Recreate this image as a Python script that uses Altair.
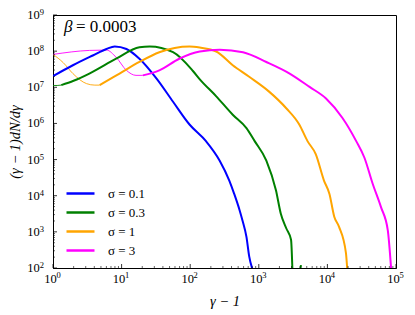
import numpy as np
import pandas as pd
import altair as alt

FONT = "Liberation Serif, DejaVu Serif, serif"

sigma_labels = ["σ = 0.1", "σ = 0.3", "σ = 1", "σ = 3"]
colors = ["#0000ff", "#008000", "#ffa500", "#ff00ff"]
beta_symbol = "β"
beta_value = "= 0.0003"

# log10(gamma-1), log10(y)
blue_thick_lx = [0.00, 0.29, 0.58, 0.78, 0.90, 1.07, 1.26, 1.51, 1.75, 1.99, 2.23, 2.43, 2.57, 2.64, 2.72, 2.76, 2.82, 2.86, 2.91]
blue_thick_ly = [7.31, 7.61, 7.88, 8.06, 8.13, 8.06, 7.79, 7.24, 6.60, 5.97, 5.51, 4.97, 4.42, 4.06, 3.60, 3.33, 2.86, 2.32, 1.95]

green_thin_lx = [0.00, 0.06, 0.12]
green_thin_ly = [7.05, 7.05, 7.06]
green_thick_lx = [0.12, 0.30, 0.53, 0.92, 1.26, 1.41, 1.75, 2.04, 2.14, 2.38, 2.62, 2.82, 2.94, 3.11, 3.25, 3.32, 3.40, 3.47, 3.49]
green_thick_ly = [7.06, 7.18, 7.38, 7.79, 8.11, 8.13, 7.97, 7.45, 7.22, 6.75, 6.24, 5.87, 5.51, 4.97, 4.15, 3.51, 3.10, 2.78, 1.95]
green_blip_lx = [3.605, 3.615]
green_blip_ly = [1.95, 2.08]

orange_thin_lx = [0.00, 0.15, 0.29, 0.49, 0.61, 0.68]
orange_thin_ly = [7.91, 7.68, 7.38, 7.10, 7.06, 7.06]
orange_thick_lx = [0.68, 0.97, 1.26, 1.55, 1.99, 2.14, 2.38, 2.62, 2.86, 3.15, 3.40, 3.59, 3.71, 3.83, 3.95, 4.03, 4.10, 4.17, 4.27, 4.29]
orange_thick_ly = [7.06, 7.38, 7.70, 7.97, 8.13, 8.10, 7.99, 7.61, 7.29, 6.88, 6.42, 5.97, 5.51, 5.15, 4.42, 4.05, 3.42, 3.14, 2.42, 1.95]

magenta_thin_lx = [0.00, 0.53, 0.78, 0.92, 1.07, 1.21, 1.31]
magenta_thin_ly = [7.91, 8.02, 8.03, 7.83, 7.47, 7.33, 7.33]
magenta_thick_lx = [1.31, 1.55, 1.84, 2.14, 2.43, 2.77, 3.11, 3.45, 3.74, 3.98, 4.22, 4.42, 4.54, 4.66, 4.78, 4.88, 4.93]
magenta_thick_ly = [7.33, 7.47, 7.79, 7.99, 8.04, 7.97, 7.70, 7.38, 7.01, 6.69, 6.15, 5.51, 5.05, 4.33, 3.69, 3.05, 1.95]

tick_base = "10"
x_tick_exponents = ["0", "1", "2", "3", "4", "5"]
y_tick_exponents = ["2", "3", "4", "5", "6", "7", "8", "9"]
x_major = [1, 10, 100, 1000, 10000, 100000]
y_major = [1e2, 1e3, 1e4, 1e5, 1e6, 1e7, 1e8, 1e9]

series = [
    (0, "thick", "b", blue_thick_lx, blue_thick_ly),
    (1, "thin", "a", green_thin_lx, green_thin_ly),
    (1, "thick", "b", green_thick_lx, green_thick_ly),
    (1, "thick", "c", green_blip_lx, green_blip_ly),
    (2, "thin", "a", orange_thin_lx, orange_thin_ly),
    (2, "thick", "b", orange_thick_lx, orange_thick_ly),
    (3, "thin", "a", magenta_thin_lx, magenta_thin_ly),
    (3, "thick", "b", magenta_thick_lx, magenta_thick_ly),
]
rows = []
for si, part, seg, lx, ly in series:
    for i, (a, b) in enumerate(zip(lx, ly)):
        rows.append({"sigma": sigma_labels[si], "part": part, "key": f"{si}-{seg}",
                     "i": i, "x": 10 ** a, "y": 10 ** b})
df = pd.DataFrame(rows)

W, H = 343, 253
xscale = alt.Scale(type="log", domain=[1, 1e5], nice=False)
yscale = alt.Scale(type="log", domain=[1e2, 1e9], nice=False)
cscale = alt.Scale(domain=sigma_labels, range=colors)

xaxis = alt.Axis(labels=False, ticks=False, grid=False,
                 title="γ − 1", titleFontStyle="italic", titlePadding=26)
yaxis = alt.Axis(labels=False, ticks=False, grid=False,
                 title="(γ − 1)dN/dγ", titleFontStyle="italic", titlePadding=31)
legend = alt.Legend(title=None, orient="none", legendX=19, legendY=170,
                    symbolType="M-2,0L2,0", symbolSize=196,
                    symbolStrokeWidth=2.5, labelOffset=19,
                    rowPadding=3, labelFontSize=13, labelFont=FONT,
                    padding=0)

X = alt.X("x:Q", scale=xscale, axis=xaxis)
Y = alt.Y("y:Q", scale=yscale, axis=yaxis)

thin = alt.Chart(df).transform_filter(alt.datum.part == "thin").mark_line(
    strokeWidth=0.9, clip=True, interpolate="monotone"
).encode(
    x=X, y=Y,
    color=alt.Color("sigma:N", scale=cscale, sort=sigma_labels, legend=legend),
    detail="key:N", order="i:Q",
)

thick = alt.Chart(df).transform_filter(alt.datum.part == "thick").mark_line(
    strokeWidth=2, clip=True, interpolate="monotone"
).encode(
    x=X, y=Y,
    color=alt.Color("sigma:N", scale=cscale, sort=sigma_labels, legend=legend),
    detail="key:N", order="i:Q",
)

# inward tick marks
x_minor = [k * 10 ** d for d in range(0, 5) for k in range(2, 10)]
y_minor = [k * 10 ** d for d in range(2, 9) for k in range(2, 10)]

xt_major = alt.Chart(pd.DataFrame({"x": x_major})).mark_rule(color="black", strokeWidth=0.8).encode(
    x=X, y=alt.value(H), y2=alt.value(H - 4))
xt_minor = alt.Chart(pd.DataFrame({"x": x_minor})).mark_rule(color="black", strokeWidth=0.6).encode(
    x=X, y=alt.value(H), y2=alt.value(H - 2))
yt_major = alt.Chart(pd.DataFrame({"y": y_major})).mark_rule(color="black", strokeWidth=0.8).encode(
    y=Y, x=alt.value(0), x2=alt.value(4))
yt_minor = alt.Chart(pd.DataFrame({"y": y_minor})).mark_rule(color="black", strokeWidth=0.6).encode(
    y=Y, x=alt.value(0), x2=alt.value(2))

# tick labels: "10" with a raised exponent
xl_df = pd.DataFrame({"x": x_major, "b": [tick_base] * len(x_major), "e": x_tick_exponents})
yl_df = pd.DataFrame({"y": y_major, "b": [tick_base] * len(y_major), "e": y_tick_exponents})

xl_base = alt.Chart(xl_df).mark_text(font=FONT, fontSize=12.5, align="center", baseline="middle",
                                     dx=-2.5, color="black").encode(
    x=X, y=alt.value(H + 10.5), text="b:N")
xl_exp = alt.Chart(xl_df).mark_text(font=FONT, fontSize=8.5, align="left", baseline="middle",
                                    dx=3.4, color="black").encode(
    x=X, y=alt.value(H + 6.5), text="e:N")
yl_base = alt.Chart(yl_df).mark_text(font=FONT, fontSize=12.5, align="right", baseline="middle",
                                     color="black").encode(
    y=Y, x=alt.value(-13.3), text="b:N")
yl_exp = alt.Chart(yl_df).mark_text(font=FONT, fontSize=8.5, align="left", baseline="middle",
                                    dy=-3, color="black").encode(
    y=Y, x=alt.value(-13.3), text="e:N")

beta1 = alt.Chart(pd.DataFrame({"t": [beta_symbol]})).mark_text(
    font=FONT, fontSize=17, fontStyle="italic", align="left", baseline="middle", color="black"
).encode(text="t:N", x=alt.value(11), y=alt.value(12))
beta2 = alt.Chart(pd.DataFrame({"t": [beta_value]})).mark_text(
    font=FONT, fontSize=17, align="left", baseline="middle", color="black"
).encode(text="t:N", x=alt.value(23), y=alt.value(12))

chart = alt.layer(thin, thick, xt_major, xt_minor, yt_major, yt_minor,
                  xl_base, xl_exp, yl_base, yl_exp, beta1, beta2).properties(
    width=W, height=H, autosize=alt.AutoSizeParams(type="none"),
    padding={"left": 45, "top": 7, "right": 10, "bottom": 46},
).configure_view(stroke="black", strokeWidth=1).configure_axis(
    domainColor="black", domainWidth=1, titleFont=FONT,
    titleFontSize=14.5, titleColor="black", titleFontWeight="normal",
).configure_legend(labelColor="black")

chart.save("out.html", embed_options={"renderer": "svg", "actions": False})
